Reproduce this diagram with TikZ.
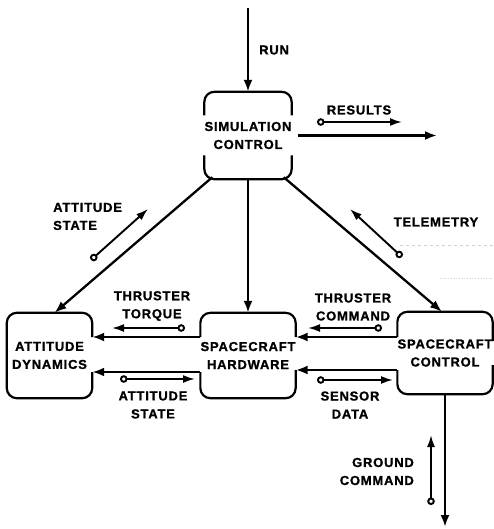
\documentclass[tikz,border=0pt]{standalone}
\usepackage{fontspec}
\setmainfont{Liberation Sans}[LetterSpace=6, BoldFeatures={FakeBold=1.2}]
\usetikzlibrary{arrows.meta}
\begin{document}
\begin{tikzpicture}[x=1pt,y=-1pt,
  lbl/.style={font=\fontsize{13}{18}\selectfont\bfseries, inner sep=0pt, align=center},
  blk/.style={lbl, minimum width=86pt, minimum height=86pt},
  conn/.style={line width=2.3pt, -{Latex[length=12pt,width=9pt]}},
  sig/.style={line width=1.9pt, {Circle[open,length=7.5pt,width=7.5pt]}-{Latex[length=12pt,width=8pt]}},
  bframe/.style={line width=2.2pt, rounded corners=10pt},
  faint/.style={gray!35, dashed, line width=0.7pt}]
\useasboundingbox (0,0) rectangle (493,529);

% blocks
\node[blk, minimum height=87pt] (sim) at (248,135.5) {SIMULATION\\CONTROL};
\node[blk, minimum width=85pt, minimum height=85pt] (ad) at (49.5,355.5) {ATTITUDE\\DYNAMICS};
\node[blk, minimum width=85pt, minimum height=85pt] (hw) at (248,355.5) {SPACECRAFT\\HARDWARE};
\node[blk, minimum height=82pt] (sc) at (445,353) {SPACECRAFT\\CONTROL};

% frames (broken sides)
\draw[bframe] ([yshift=20pt]sim.west) -- (sim.north west) -- (sim.north east) -- ([yshift=20pt]sim.east);
\draw[bframe] ([yshift=-20pt]sim.west) -- (sim.south west) -- (sim.south east) -- ([yshift=-20pt]sim.east);
\draw[bframe] ([yshift=18.5pt]ad.east) -- (ad.north east) -- (ad.north west) -- (ad.south west) -- (ad.south east) -- ([yshift=-16.5pt]ad.east);
\draw[bframe] ([yshift=18.5pt]hw.west) -- (hw.north west) -- (hw.north east) -- ([yshift=18.5pt]hw.east);
\draw[bframe] ([yshift=-16.5pt]hw.west) -- (hw.south west) -- (hw.south east) -- ([yshift=-14.5pt]hw.east);
\draw[bframe] ([yshift=16pt]sc.west) -- (sc.north west) -- (sc.north east) -- ([yshift=12pt]sc.east);
\draw[bframe] ([yshift=-17pt]sc.west) -- (sc.south west) -- (sc.south east) -- ([yshift=-12pt]sc.east);

% free ends
\coordinate (runtop) at (248,8);
\coordinate (resend) at (437,135.5);
\coordinate (gnd) at (445,527);

% main connectors
\draw[conn] (runtop) -- (sim.north);
\draw[conn] ([xshift=6pt]sim.east) -- (resend);
\draw[conn] ([xshift=8pt,yshift=2pt]sim.south west) -- ([xshift=5pt]ad.north);
\draw[conn] (sim.south) -- (hw.north);
\draw[conn] ([xshift=-8pt,yshift=2pt]sim.south east) -- ([xshift=-3pt]sc.north);
\draw[conn] ([yshift=18.5pt]hw.west) -- ([yshift=18.5pt]ad.east);
\draw[conn] ([yshift=-16.5pt]hw.west) -- ([yshift=-16.5pt]ad.east);
\draw[conn] ([yshift=16pt]sc.west) -- ([yshift=18.5pt]hw.east);
\draw[conn] ([yshift=-17pt]sc.west) -- ([yshift=-14.5pt]hw.east);
\draw[conn] (sc.south) -- (gnd);

% signal arrows
\coordinate (r0) at (317,122);   \coordinate (r1) at (402,122);
\coordinate (a0) at (91,260);    \coordinate (a1) at (148,209);
\coordinate (t0) at (402,257);   \coordinate (t1) at (350,209);
\coordinate (tt0) at (185,328);  \coordinate (tt1) at (112,328);
\coordinate (as0) at (120,379);  \coordinate (as1) at (195,379);
\coordinate (tc0) at (382,328);  \coordinate (tc1) at (308,328);
\coordinate (sd0) at (317,380);  \coordinate (sd1) at (393,380);
\coordinate (g0) at (431,505);   \coordinate (g1) at (431,435);
\draw[sig] (r0) -- (r1);
\draw[sig] (a0) -- (a1);
\draw[sig] (t0) -- (t1);
\draw[sig] (tt0) -- (tt1);
\draw[sig] (as0) -- (as1);
\draw[sig] (tc0) -- (tc1);
\draw[sig] (sd0) -- (sd1);
\draw[sig] (g0) -- (g1);

% faint scan lines
\coordinate (f0) at (400,245); \coordinate (f1) at (493,245);
\coordinate (f2) at (440,278); \coordinate (f3) at (493,278);
\draw[faint] (f0) -- (f1);
\draw[faint, dotted] (f2) -- (f3);

% labels
\node[lbl, anchor=west] (lrun) at (259,50) {RUN};
\node[lbl] (lres) at (359,110) {RESULTS};
\node[lbl, anchor=west, align=left] (last) at (53,216.5) {ATTITUDE\\STATE};
\node[lbl] (ltel) at (436,222) {TELEMETRY};
\node[lbl] (ltt) at (152,306) {THRUSTER\\TORQUE};
\node[lbl] (ltc) at (353,307) {THRUSTER\\COMMAND};
\node[lbl] (las2) at (153,405) {ATTITUDE\\STATE};
\node[lbl] (lsd) at (350,405) {SENSOR\\DATA};
\node[lbl, anchor=east, align=right] (lgc) at (414,471.5) {GROUND\\COMMAND};
\end{tikzpicture}
\end{document}
